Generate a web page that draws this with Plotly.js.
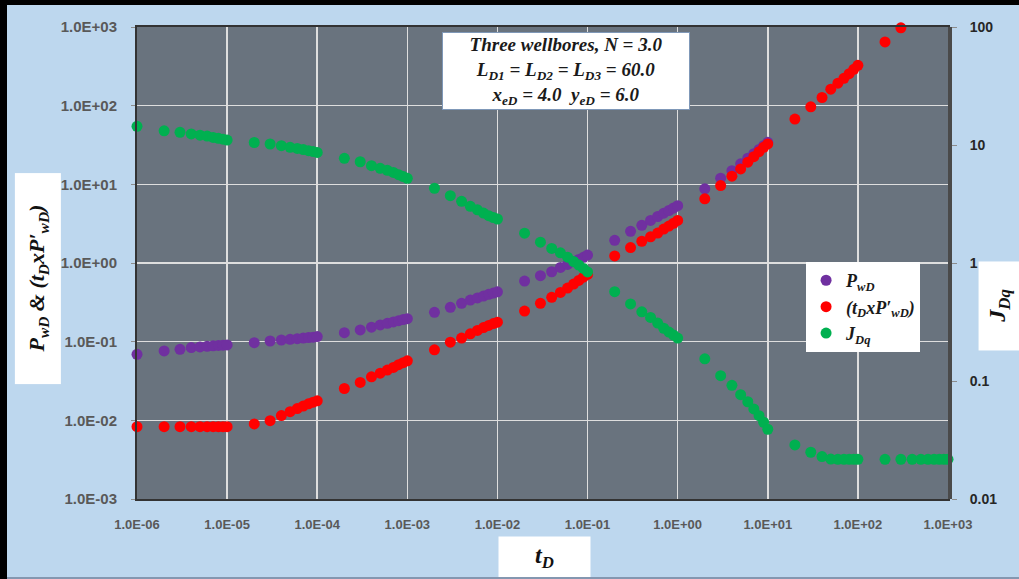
<!DOCTYPE html>
<html>
<head>
<meta charset="utf-8">
<script src="https://cdn.plot.ly/plotly-3.0.1.min.js"></script>
<style>
  html, body { margin: 0; padding: 0; background: #000; }
  #chart {
    position: absolute; left: 7px; top: 5px;
    width: 1012px; height: 572px;
    border-bottom: 2px solid #8497b0;
  }
</style>
</head>
<body>
<div id="chart"></div>
<script>
// Dimensionless time
const tD = [
  1e-6, 2e-6, 3e-6, 4e-6, 5e-6, 6e-6, 7e-6, 8e-6, 9e-6,
  1e-5, 2e-5, 3e-5, 4e-5, 5e-5, 6e-5, 7e-5, 8e-5, 9e-5,
  1e-4, 2e-4, 3e-4, 4e-4, 5e-4, 6e-4, 7e-4, 8e-4, 9e-4,
  1e-3, 2e-3, 3e-3, 4e-3, 5e-3, 6e-3, 7e-3, 8e-3, 9e-3,
  1e-2, 2e-2, 3e-2, 4e-2, 5e-2, 6e-2, 7e-2, 8e-2, 9e-2,
  0.1, 0.2, 0.3, 0.4, 0.5, 0.6, 0.7, 0.8, 0.9,
  1, 2, 3, 4, 5, 6, 7, 8, 9,
  10, 20, 30, 40, 50, 60, 70, 80, 90,
  100, 200, 300, 400, 500, 600, 700, 800, 900,
  1000
];

// Dimensionless wellbore pressure P_wD
const pwd = [
  0.069, 0.0762, 0.080, 0.084, 0.0857, 0.0873, 0.0885, 0.0895, 0.0903,
  0.0908, 0.0971, 0.102, 0.105, 0.107, 0.109, 0.111, 0.113, 0.114,
  0.116, 0.130, 0.141, 0.153, 0.163, 0.171, 0.178, 0.185, 0.191,
  0.196, 0.236, 0.273, 0.307, 0.338, 0.36, 0.38, 0.40, 0.415,
  0.43, 0.589, 0.689, 0.774, 0.877, 0.96, 1.04, 1.11, 1.18,
  1.26, 1.94, 2.53, 3.01, 3.48, 3.9, 4.3, 4.65, 5.0,
  5.35, 8.77, 11.97, 14.9, 18.2, 21.5, 24.5, 27.8, 31.0,
  34.2
];

// Pressure derivative t_D x P'_wD
const deriv = [
  0.0083, 0.0083, 0.0083, 0.0083, 0.0083, 0.0083, 0.0083, 0.0083, 0.0083,
  0.0083, 0.0090, 0.0099, 0.0115, 0.0129, 0.0141, 0.0152, 0.0162, 0.0170,
  0.0177, 0.0254, 0.0303, 0.0357, 0.0397, 0.0435, 0.047, 0.051, 0.054,
  0.057, 0.0787, 0.0986, 0.111, 0.126, 0.139, 0.151, 0.161, 0.170,
  0.177, 0.245, 0.307, 0.366, 0.423, 0.48, 0.54, 0.60, 0.66,
  0.715, 1.23, 1.57, 1.89, 2.15, 2.4, 2.7, 2.95, 3.2,
  3.48, 6.55, 9.66, 12.7, 15.7, 19.1, 22.5, 26.0, 29.5,
  32.6, 67.5, 96.7, 127, 162, 193, 223, 255, 290,
  326, 646, 977
];

// Productivity index J_Dq (right axis)
const jdq = [
  14.4, 13.2, 12.8, 12.4, 12.1, 11.9, 11.6, 11.4, 11.2,
  11.0, 10.5, 10.2, 9.86, 9.56, 9.35, 9.15, 8.95, 8.8,
  8.65, 7.71, 7.21, 6.68, 6.35, 6.1, 5.85, 5.6, 5.4,
  5.22, 4.30, 3.72, 3.33, 3.02, 2.82, 2.65, 2.52, 2.43,
  2.36, 1.79, 1.50, 1.33, 1.22, 1.12, 1.03, 0.96, 0.90,
  0.84, 0.571, 0.45, 0.386, 0.346, 0.31, 0.28, 0.26, 0.245,
  0.231, 0.154, 0.111, 0.092, 0.0765, 0.0667, 0.058, 0.0508, 0.0447,
  0.039, 0.0287, 0.0249, 0.0229, 0.0218, 0.0217, 0.0217, 0.0217, 0.0217,
  0.0217, 0.0217, 0.0217, 0.0217, 0.0217, 0.0217, 0.0217, 0.0217, 0.0217,
  0.0217
];

// Tick labels
const xTickVals = [1e-6, 1e-5, 1e-4, 1e-3, 1e-2, 1e-1, 1, 10, 100, 1000];
const xTickText = ['1.0E-06', '1.0E-05', '1.0E-04', '1.0E-03', '1.0E-02',
                   '1.0E-01', '1.0E+00', '1.0E+01', '1.0E+02', '1.0E+03'];
const yTickVals = [1e-3, 1e-2, 1e-1, 1, 10, 100, 1000];
const yTickText = ['1.0E-03', '1.0E-02', '1.0E-01', '1.0E+00', '1.0E+01', '1.0E+02', '1.0E+03'];
const y2TickVals = [0.01, 0.1, 1, 10, 100];
const y2TickText = ['0.01', '0.1', '1', '10', '100'];

const seriesNames = [
  '<b><i>P<sub>wD</sub></i></b>',
  '<b><i>(t<sub>D</sub>xP′<sub>wD</sub>)</i></b>',
  '<b><i>J<sub>Dq</sub></i></b>'
];
const seriesColors = ['#7030a0', '#ff0000', '#00b050'];

const markerStyle = (c) => ({ color: c, size: 11, line: { width: 0 } });

const traces = [
  { x: tD.slice(0, pwd.length), y: pwd, name: seriesNames[0], yaxis: 'y',
    type: 'scatter', mode: 'markers', marker: markerStyle(seriesColors[0]), cliponaxis: false },
  { x: tD.slice(0, deriv.length), y: deriv, name: seriesNames[1], yaxis: 'y',
    type: 'scatter', mode: 'markers', marker: markerStyle(seriesColors[1]), cliponaxis: false },
  { x: tD.slice(0, jdq.length), y: jdq, name: seriesNames[2], yaxis: 'y2',
    type: 'scatter', mode: 'markers', marker: markerStyle(seriesColors[2]), cliponaxis: false }
];

const sans = 'Liberation Sans, Arial, sans-serif';
const serif = 'Liberation Serif, DejaVu Serif, serif';

const layout = {
  width: 1012,
  height: 572,
  paper_bgcolor: '#bdd7ee',
  plot_bgcolor: '#69737e',
  margin: { l: 130, r: 71, t: 22, b: 78, pad: 0 },
  showlegend: true,
  xaxis: {
    type: 'log', range: [-6, 3],
    tickmode: 'array', tickvals: xTickVals, ticktext: xTickText,
    showgrid: true, gridcolor: '#dedede', gridwidth: 1.5,
    showline: true, linecolor: '#333333', linewidth: 2, mirror: true,
    ticks: '', tickfont: { family: sans, size: 13, color: '#595959', weight: 'bold' },
    ticklabelstandoff: 12, zeroline: false, automargin: false
  },
  yaxis: {
    type: 'log', range: [-3, 3],
    tickmode: 'array', tickvals: yTickVals, ticktext: yTickText,
    showgrid: true, gridcolor: '#dedede', gridwidth: 1.5,
    showline: true, linecolor: '#333333', linewidth: 2, mirror: true,
    ticks: 'outside', ticklen: 4, tickcolor: '#8c8c8c',
    tickfont: { family: sans, size: 15, color: '#595959', weight: 'bold' },
    ticklabelstandoff: 11, zeroline: false, automargin: false
  },
  yaxis2: {
    type: 'log', range: [-2, 2], overlaying: 'y', side: 'right',
    tickmode: 'array', tickvals: y2TickVals, ticktext: y2TickText,
    showgrid: false, showline: true, linecolor: '#4a4a4a', linewidth: 4,
    ticks: 'outside', ticklen: 5, tickcolor: '#8c8c8c',
    tickfont: { family: sans, size: 14, color: '#262626', weight: 'bold' },
    ticklabelstandoff: 10, zeroline: false, automargin: false
  },
  legend: {
    x: 0.825, y: 0.502, xanchor: 'left', yanchor: 'top',
    bgcolor: '#ffffff', borderwidth: 0,
    font: { family: serif, size: 18, color: '#1a1a1a' },
    itemwidth: 30, tracegroupgap: 0
  },
  annotations: [
    {
      xref: 'paper', yref: 'paper', x: 0.529, y: 0.906,
      xanchor: 'center', yanchor: 'middle', showarrow: false,
      text: '<b><i>Three wellbores, N = 3.0</i></b><br>' +
            '<b><i>L<sub>D1</sub> = L<sub>D2</sub> = L<sub>D3</sub> = 60.0</i></b><br>' +
            '<b><i>x<sub>eD</sub> = 4.0&nbsp;&nbsp;y<sub>eD</sub> = 6.0</i></b>',
      font: { family: serif, size: 19, color: '#1a1a1a' },
      bgcolor: '#ffffff', bordercolor: '#7f98b8', borderwidth: 1, borderpad: 2,
      width: 242, height: 72, align: 'center'
    },
    {
      xref: 'paper', yref: 'paper', x: -0.1227, y: 0.468,
      xanchor: 'center', yanchor: 'middle', showarrow: false,
      text: '<b><i>P<sub>wD</sub> &amp; (t<sub>D</sub>xP′<sub>wD</sub>)</i></b>',
      textangle: -90,
      font: { family: serif, size: 22, color: '#111111' },
      bgcolor: '#ffffff', borderpad: 0, width: 210, height: 45
    },
    {
      xref: 'paper', yref: 'paper', x: 1.0629, y: 0.409,
      xanchor: 'center', yanchor: 'middle', showarrow: false,
      text: '<b><i>J<sub>Dq</sub></i></b>',
      textangle: -90,
      font: { family: serif, size: 24, color: '#111111' },
      bgcolor: '#ffffff', borderpad: 0, width: 88, height: 40
    },
    {
      xref: 'paper', yref: 'paper', x: 0.5025, y: -0.1229,
      xanchor: 'center', yanchor: 'middle', showarrow: false,
      text: '<b><i>t<sub>D</sub></i></b>',
      font: { family: serif, size: 24, color: '#111111' },
      bgcolor: '#ffffff', borderpad: 0, width: 91, height: 40
    }
  ]
};

Plotly.newPlot('chart', traces, layout, { displayModeBar: false, staticPlot: true });
</script>
</body>
</html>
